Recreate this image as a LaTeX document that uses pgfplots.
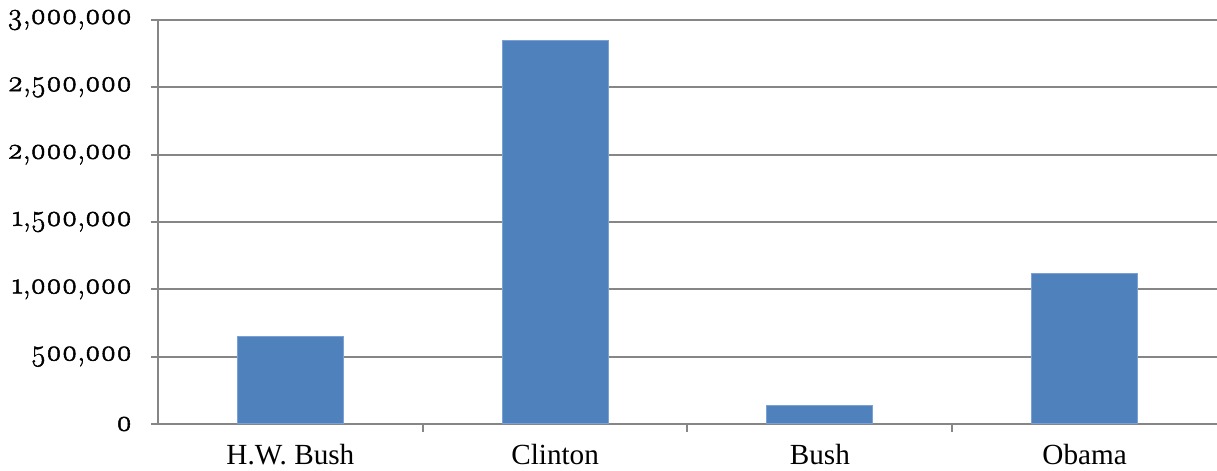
\documentclass[border=0pt]{standalone}
\usepackage{fontspec}
\setmainfont{Liberation Serif}
\newfontfamily\ticknums{Latin Modern Roman}[Numbers=OldStyle, FakeBold=1.6]
\usepackage{pgfplots}
\pgfplotsset{compat=1.18}
\definecolor{barblue}{HTML}{4F81BD}
\definecolor{baredge}{HTML}{7BA0D4}
\definecolor{gridgray}{HTML}{868686}

\begin{document}
\begin{tikzpicture}
\path[use as bounding box] (-79pt,-23.5pt) rectangle (529.5pt,212pt);
\begin{axis}[
  at={(0,0)}, anchor=south west,
  scale only axis, width=529.5pt, height=202pt,
  xmin=-0.5, xmax=3.5, ymin=0, ymax=3000000,
  axis lines*=left,
  axis line style={draw=gridgray, line width=1pt},
  ymajorgrids=true,
  grid style={draw=gridgray, line width=1pt},
  tick align=outside,
  major tick length=3.5pt,
  minor tick length=4pt,
  tick style={draw=gridgray, line width=1pt},
  major x tick style={draw=none},
  xtick={0,1,2,3},
  xticklabels={H.W. Bush, Clinton, Bush, Obama},
  minor xtick={0.5,1.5,2.5},
  ytick={0,500000,1000000,1500000,2000000,2500000,3000000},
  yticklabels={{0},{500,000},{1,000,000},{1,500,000},{2,000,000},{2,500,000},{3,000,000}},
  yticklabel style={font=\ticknums\fontsize{15}{17}\selectfont, xshift=-6pt},
  xticklabel style={font=\fontsize{14.6}{16}\selectfont, yshift=-3pt},
  scaled y ticks=false,
  ybar, bar width=0.4, bar shift=0pt,
  clip=false,
]
\addplot[fill=barblue, draw=baredge, line width=0.5pt] coordinates {
  (0,648000) (1,2846000) (2,136000) (3,1121000)
};
\end{axis}
\end{tikzpicture}
\end{document}
